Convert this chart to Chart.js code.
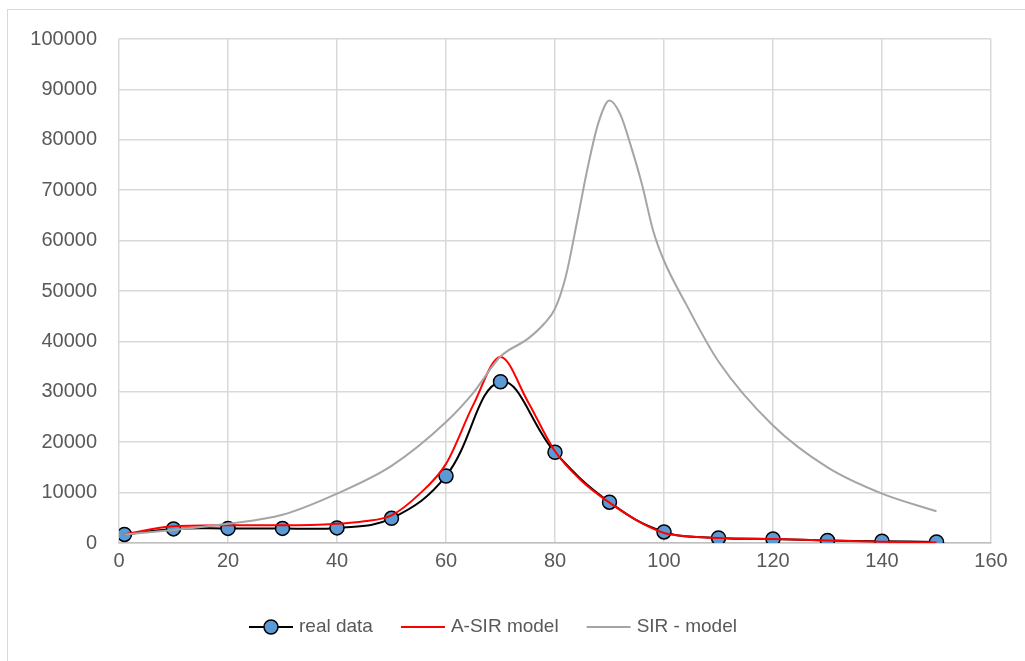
<!DOCTYPE html>
<html>
<head>
<meta charset="utf-8">
<script src="https://cdn.jsdelivr.net/npm/chart.js@4.4.0/dist/chart.umd.min.js"></script>
<style>
  html, body { margin: 0; padding: 0; background: #ffffff; overflow: hidden; }
  #frame { position: absolute; left: 7px; top: 9px; width: 1030px; height: 670px; border: 1px solid #d9d9d9; }
  #lineChart { position: absolute; left: 0; top: 0; }
</style>
</head>
<body>
<div id="frame"></div>
<canvas id="lineChart" width="1025" height="661"></canvas>
<script>
// real data (blue markers)
const realDays  = [1, 10, 20, 30, 40, 50, 60, 70, 80, 90, 100, 110, 120, 130, 140, 150];
const realCases = [1700, 2800, 2900, 2900, 3000, 4900, 13300, 32000, 18000, 8100, 2200, 1000, 800, 500, 350, 200];

// A-SIR model (red)
const asirDays  = [1, 10, 20, 30, 40, 45, 50, 55, 60, 65, 70, 75, 80, 85, 90, 95, 100, 105, 110, 120, 130, 140, 150];
const asirCases = [1700, 3300, 3500, 3500, 3800, 4300, 5500, 9600, 15700, 27400, 36900, 28100, 18200, 12200, 8000, 4500, 2000, 1300, 1000, 800, 500, 250, 100];

// SIR - model (grey)
const sirDays  = [1, 10, 20, 30, 40, 50, 60, 65, 70, 75, 78, 80, 82, 84, 86, 88, 90, 92, 94, 96, 98, 100, 104, 110, 120, 130, 140, 150];
const sirCases = [1700, 2600, 3800, 5600, 9800, 15300, 24000, 29800, 37000, 40500, 43500, 46500, 53000, 63500, 74500, 83500, 87800, 85000, 78500, 71000, 62000, 56000, 47500, 36000, 23300, 15000, 9800, 6300];

// axis ticks
const xTickMin = 0, xTickMax = 160, xTickStep = 20;
const yTickMin = 0, yTickMax = 100000, yTickStep = 10000;

const seriesNames = ['real data', 'A-SIR model', 'SIR - model'];

const toPoints = (xs, ys) => xs.map((x, i) => ({ x: x, y: ys[i] }));

const textColor = '#595959';
const gridColor = '#d9d9d9';
const tickFont = { family: "'Liberation Sans', Arial, sans-serif", size: 20 };

// legend drawn under the plot like the original
const legendPlugin = {
  id: 'bottomLegend',
  afterDraw(chart) {
    const ctx = chart.ctx;
    const y = 627;
    let x = 249;
    ctx.save();
    ctx.font = "19px 'Liberation Sans', Arial, sans-serif";
    ctx.textBaseline = 'middle';
    const styles = [
      { color: '#000000', marker: true },
      { color: '#ff0000', marker: false },
      { color: '#a5a5a5', marker: false }
    ];
    seriesNames.forEach((name, i) => {
      const st = styles[i];
      ctx.strokeStyle = st.color;
      ctx.lineWidth = 2;
      ctx.beginPath();
      ctx.moveTo(x, y);
      ctx.lineTo(x + 44, y);
      ctx.stroke();
      if (st.marker) {
        ctx.beginPath();
        ctx.arc(x + 22, y, 7, 0, Math.PI * 2);
        ctx.fillStyle = '#5b9bd5';
        ctx.fill();
        ctx.lineWidth = 1.5;
        ctx.strokeStyle = '#000000';
        ctx.stroke();
      }
      ctx.fillStyle = textColor;
      ctx.fillText(name, x + 50, y);
      x += 50 + ctx.measureText(name).width + 28;
    });
    ctx.restore();
  }
};

const ctxL = document.getElementById('lineChart').getContext('2d');
const myLineChart = new Chart(ctxL, {
  type: 'line',
  data: {
    datasets: [{
      label: seriesNames[0],
      data: toPoints(realDays, realCases),
      borderColor: '#000000',
      borderWidth: 2,
      backgroundColor: '#5b9bd5',
      pointBackgroundColor: '#5b9bd5',
      pointBorderColor: '#000000',
      pointBorderWidth: 1.5,
      pointRadius: 7,
      tension: 0.4,
      order: 3
    }, {
      label: seriesNames[1],
      data: toPoints(asirDays, asirCases),
      borderColor: '#ff0000',
      borderWidth: 2,
      pointRadius: 0,
      cubicInterpolationMode: 'monotone',
      order: 2
    }, {
      label: seriesNames[2],
      data: toPoints(sirDays, sirCases),
      borderColor: '#a5a5a5',
      borderWidth: 2,
      pointRadius: 0,
      cubicInterpolationMode: 'monotone',
      order: 1
    }]
  },
  options: {
    responsive: false,
    animation: false,
    layout: { padding: { left: 0, top: 39, right: 34, bottom: 0 } },
    plugins: {
      legend: { display: false },
      tooltip: { enabled: false }
    },
    scales: {
      x: {
        type: 'linear',
        min: xTickMin,
        max: xTickMax,
        ticks: {
          stepSize: xTickStep,
          color: textColor,
          font: tickFont,
          padding: 6,
          callback: v => String(v)
        },
        grid: { color: gridColor, lineWidth: 1.5, drawTicks: false },
        border: { color: '#bfbfbf', width: 1.5 },
        afterFit: s => { s.height = 118; }
      },
      y: {
        min: yTickMin,
        max: yTickMax,
        ticks: {
          stepSize: yTickStep,
          color: textColor,
          font: tickFont,
          padding: 22,
          callback: v => String(v)
        },
        grid: { color: gridColor, lineWidth: 1.5, drawTicks: false },
        border: { display: false },
        afterFit: s => { s.width = 119; }
      }
    }
  },
  plugins: [legendPlugin]
});
</script>
</body>
</html>
